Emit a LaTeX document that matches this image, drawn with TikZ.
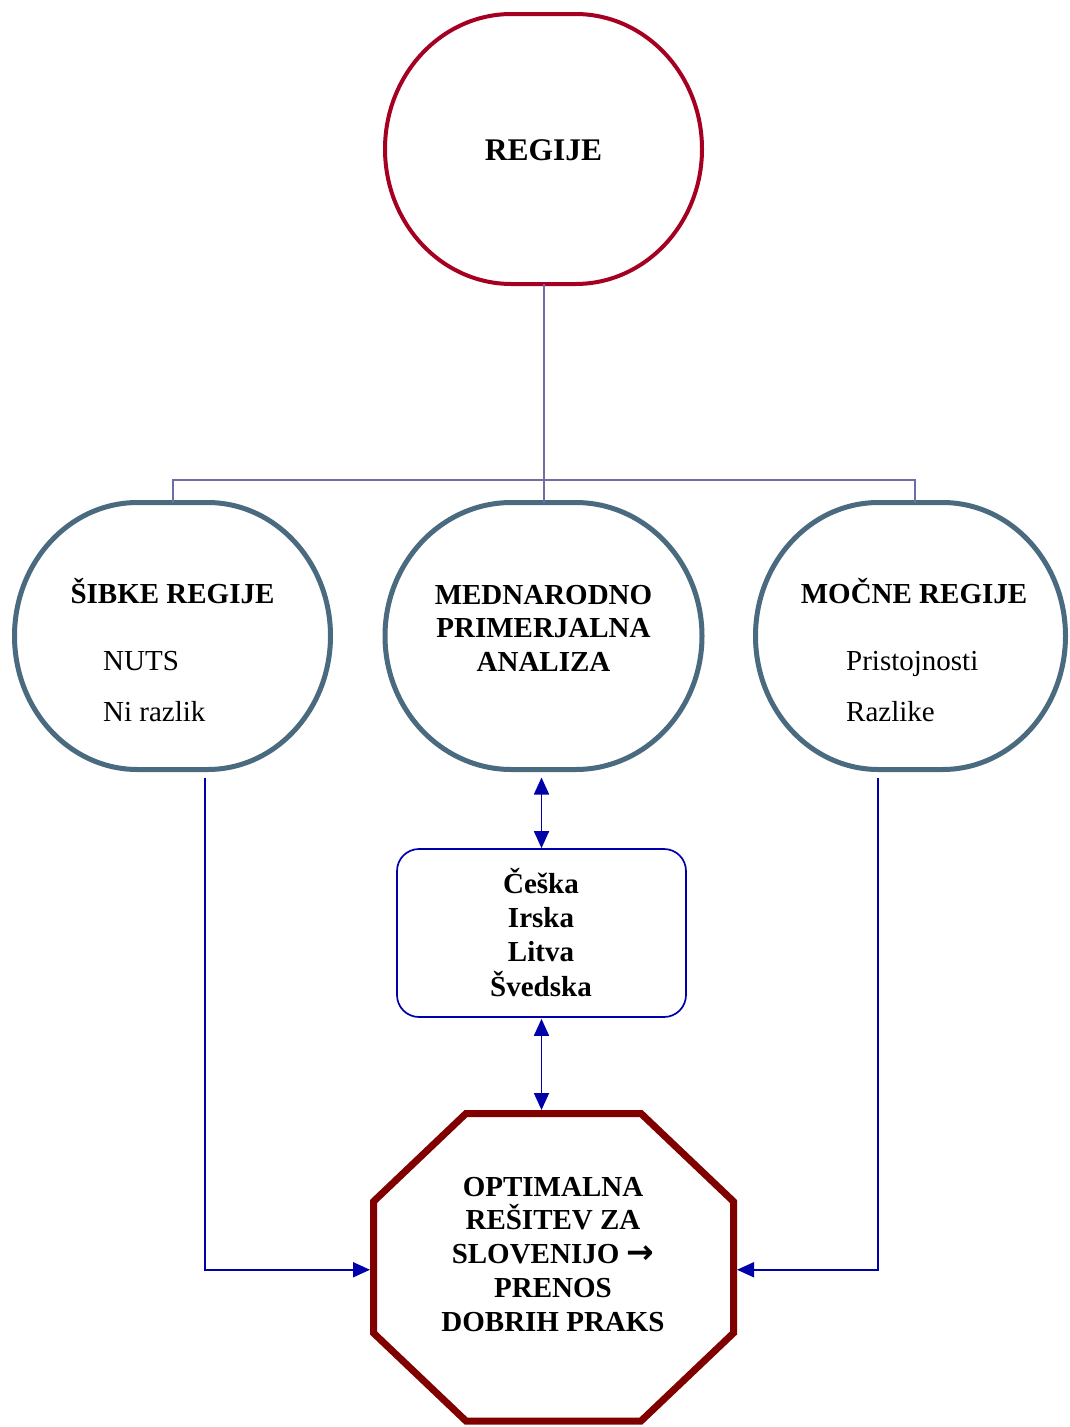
\documentclass[tikz,border=0pt]{standalone}
\usepackage{fontspec}
\setmainfont{Liberation Serif}
\newfontfamily\arrowfont{DejaVu Sans}
\usetikzlibrary{arrows.meta}
\definecolor{topred}{RGB}{165,0,33}
\definecolor{treecol}{RGB}{110,110,165}
\definecolor{ovalcol}{RGB}{74,106,128}
\definecolor{arrblue}{RGB}{0,0,170}
\definecolor{octred}{RGB}{128,0,0}
\newcommand{\drawoval}[5]{%
  \draw[#1] ([xshift=-#3pt]#2.north) -- ([xshift=#3pt]#2.north)
    arc[start angle=90,end angle=-90,x radius=#4,y radius=#5]
    -- ([xshift=-#3pt]#2.south)
    arc[start angle=270,end angle=90,x radius=#4,y radius=#5] -- cycle;}
\tikzset{
  holder/.style={draw=none,rectangle,inner sep=0pt,outer sep=0pt},
  topline/.style={draw=topred,line width=4pt},
  midline/.style={draw=ovalcol,line width=5pt},
  treeline/.style={draw=treecol,line width=2pt},
  blueline/.style={draw=arrblue,line width=1.8pt},
  bluetip/.style={blueline,arrows={-Triangle[length=17pt,width=15pt]}},
  bluedbl/.style={blueline,arrows={Triangle[length=17pt,width=15pt]-Triangle[length=17pt,width=15pt]}},
  octline/.style={draw=octred,line width=7pt,line join=miter},
  bigbold/.style={font=\fontsize{31.5}{36}\selectfont\bfseries,inner sep=0pt,anchor=base},
  bold/.style={font=\fontsize{29}{34}\selectfont\bfseries,inner sep=0pt,anchor=base},
  plain/.style={font=\fontsize{29}{34}\selectfont,inner sep=0pt,anchor=base west},
}
\begin{document}
\begin{tikzpicture}[x=1pt,y=1pt]
\useasboundingbox[fill=white] (0,0) rectangle (1070,-1427);

% shapes (holders)
\node[holder,minimum width=317pt,minimum height=270pt] (top) at (543.5,-149) {};
\node[holder,minimum width=316pt,minimum height=267pt] (sib) at (172.5,-636) {};
\node[holder,minimum width=317pt,minimum height=267pt] (mid) at (543.5,-636) {};
\node[holder,minimum width=310pt,minimum height=267pt] (moc) at (910.5,-636) {};
\node[draw=arrblue,line width=1.7pt,rounded corners=22pt,minimum width=289pt,minimum height=168pt,inner sep=0pt] (box) at (541.5,-933) {};
\node[holder,minimum width=360pt,minimum height=307.5pt] (opt) at (553.5,-1267.25) {};

% outlines
\drawoval{topline}{top}{32}{126.5}{135}
\drawoval{midline}{sib}{35}{123}{133.5}
\drawoval{midline}{mid}{32}{126.5}{133.5}
\drawoval{midline}{moc}{32}{123}{133.5}
\draw[octline] ([xshift=-87.5pt]opt.north) -- ([xshift=87.5pt]opt.north)
  -- ([yshift=-88pt]opt.north east) -- ([yshift=88pt]opt.south east)
  -- ([xshift=87.5pt]opt.south) -- ([xshift=-87.5pt]opt.south)
  -- ([yshift=88pt]opt.south west) -- ([yshift=-88pt]opt.north west) -- cycle;

% tree connectors
\draw[treeline] (top.south) -- (mid.north);
\draw[treeline] (sib.north) -- ++(0,23) -| ([xshift=4.5pt]moc.north);

% blue connectors
\draw[bluedbl] ([xshift=-2pt,yshift=-8pt]mid.south) -- (box.north);
\draw[bluedbl] ([yshift=-1pt]box.south) -- ([xshift=-12pt,yshift=3.5pt]opt.north);
\coordinate (ls) at (205,-778);
\coordinate (rs) at (878,-778);
\draw[bluetip] (ls) |- ([xshift=-3.5pt,yshift=-2.5pt]opt.west);
\draw[bluetip] (rs) |- ([xshift=3.5pt,yshift=-2.5pt]opt.east);

% texts
\node[bigbold] (t0) at (543.5,-160) {REGIJE};
\node[bold] (t1) at (172.5,-603) {ŠIBKE REGIJE};
\node[plain] (t2) at (103,-670) {NUTS};
\node[plain] (t3) at (103,-721) {Ni razlik};
\node[bold] (t4) at (543.5,-604) {MEDNARODNO};
\node[bold] (t5) at (543.5,-637.5) {PRIMERJALNA};
\node[bold] (t6) at (543.5,-671) {ANALIZA};
\node[bold] (t7) at (914,-603) {MOČNE REGIJE};
\node[plain] (t8) at (846,-670) {Pristojnosti};
\node[plain] (t9) at (846,-721) {Razlike};
\node[bold] (c1) at (541,-893) {Češka};
\node[bold] (c2) at (541,-927) {Irska};
\node[bold] (c3) at (541,-961.5) {Litva};
\node[bold] (c4) at (541,-996) {Švedska};
\node[bold] (o1) at (553,-1196) {OPTIMALNA};
\node[bold] (o2) at (553,-1229.5) {REŠITEV ZA};
\node[bold] (o3) at (553,-1263) {SLOVENIJO {\arrowfont\bfseries\fontsize{33}{34}\selectfont →}};
\node[bold] (o4) at (553,-1297) {PRENOS};
\node[bold] (o5) at (553,-1331) {DOBRIH PRAKS};
\end{tikzpicture}
\end{document}
